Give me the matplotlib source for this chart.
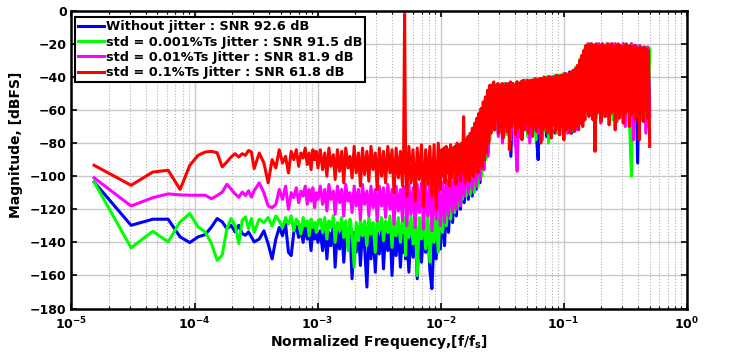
import numpy as np
import matplotlib
matplotlib.use('Agg')
import matplotlib.pyplot as plt

plt.rcParams['font.family'] = ['DejaVu Sans']
plt.rcParams['font.weight'] = 'bold'
plt.rcParams['mathtext.fontset'] = 'dejavusans'
plt.rcParams['mathtext.default'] = 'bf'

# FFT length used for the spectrum
n_fft = 65536

# FFT bin indices where the spectrum was read
bins = [1, 2, 3, 4, 5, 6, 7, 8, 9, 10, 11, 12, 13, 14, 15, 16, 17, 18, 19, 20,
        22, 24, 26, 28, 30, 32, 34, 36, 38, 40, 42, 44, 46, 48, 50, 52, 54, 56, 58, 60, 62, 64, 66,
        69, 72, 75, 78, 81, 84, 88, 91, 95, 99,
        103, 107, 111, 116, 120, 125, 130, 135, 141, 146,
        152, 158, 165, 171, 178, 185, 193, 200, 208, 217,
        225, 234, 244, 254, 264, 274, 285, 297, 309, 321,
        328, 334, 340, 348, 362, 376, 391, 407, 423, 440,
        458, 476, 495, 515, 536, 557, 580, 603, 627, 652,
        680, 705, 730, 760, 790, 820, 850, 880, 915, 950, 985, 1020, 1060,
        1100, 1140, 1185, 1230, 1275, 1320, 1370, 1420, 1475, 1530, 1590, 1650,
        1715, 1785, 1855, 1930, 2005, 2085, 2170, 2255, 2345, 2440,
        2540, 2640, 2745, 2855, 2970, 3090, 3210, 3340, 3475, 3615,
        3760, 3910, 4065, 4225, 4395, 4570, 4755, 4945, 5140, 5345,
        5560, 5785, 6015, 6255, 6505, 6765, 7035, 7320, 7610, 7915,
        8230, 8560, 8900, 9260, 9630,
        10010, 10400, 10810, 11230, 11670, 12130, 12600, 13100, 13610, 14140,
        14700, 15270, 15870, 16490, 17140, 17810, 18510, 19230, 19990, 20770,
        21580, 22430, 23310, 24220, 25170, 26160, 27180, 28250, 29350, 30500,
        31700, 32768]

# the red trace was read more finely above 1e-2 (it covers the others there)
red_hf_bins = [670, 684, 698, 712, 727, 742, 757, 773, 789, 805,
               822, 839, 856, 874, 892, 910, 929, 948, 968, 988,
               1008, 1029, 1050, 1072, 1094, 1117, 1140, 1163, 1187, 1212,
               1237, 1262, 1288, 1315, 1342, 1370, 1398, 1427, 1456, 1486,
               1517, 1548, 1580, 1613, 1646, 1680,
               1700, 1735, 1770, 1805, 1840, 1875, 1910, 1950, 1990, 2030,
               2070, 2110, 2150, 2195, 2240, 2285, 2330, 2375, 2420, 2470,
               2520, 2570, 2620, 2670, 2725, 2780, 2835, 2890, 2945, 3005,
               3065, 3125, 3185, 3250, 3315, 3380, 3445, 3515, 3585, 3655,
               3725, 3800, 3875, 3950, 4030, 4110, 4190, 4275, 4360, 4445,
               4535, 4625, 4715, 4810, 4905, 5000, 5100, 5200, 5305, 5410,
               5515, 5625, 5735, 5850, 5965, 6085, 6205, 6330, 6455, 6580,
               6710, 6845, 6980, 7120, 7260, 7405, 7550, 7700, 7855, 8010,
               8170, 8330, 8495, 8665, 8835, 9010, 9190, 9370, 9555, 9745,
               9940, 10130, 10320, 10520, 10720, 10920, 11130, 11340, 11560, 11780,
               12000, 12230, 12460, 12700, 12940, 13190, 13440, 13700, 13960, 14230,
               14500, 14780, 15060, 15350, 15640, 15940, 16240, 16550, 16870, 17190,
               17520, 17850, 18190, 18540, 18890, 19250, 19620, 19990, 20370, 20760,
               21160, 21560, 21970, 22390, 22820, 23250, 23690, 24140, 24600, 25070,
               25550, 26040, 26530, 27040, 27550, 28080, 28610, 29160, 29710, 30280,
               30860, 31450, 32050, 32768]

blue_db = [-103.5, -129.7, -126, -126, -136.7, -140.1, -136.7, -135.3, -130.7, -125.6,
           -127.6, -131.7, -129.7, -133.7, -129.7, -134.7, -135.7, -133.7, -136.7, -139.7,
           -138, -133, -141, -150, -138, -131, -136, -129, -146, -148, -134, -130,
           -137, -132, -140, -130, -138, -133, -145, -131, -138, -133, -140,
           -133, -145, -131, -150, -134, -142, -130, -155, -133, -144,
           -131, -152, -135, -140, -132, -162, -134, -146, -131, -154,
           -133, -143, -167, -135, -150, -132, -158, -134, -147, -131,
           -156, -133, -145, -130, -160, -134, -148, -131, -155, -133,
           -146, -130, -150, -135, -158, -131, -149, -133, -162, -130,
           -152, -134, -146, -129, -157, -168, -135, -150, -126, -144,
           -120, -142, -116, -134, -112, -128, -108, -124, -104, -120, -100, -116, -96,
           -114, -92, -112, -86, -108, -80, -104, -72, -96, -62, -86, -52,
           -45, -71, -45, -75, -45, -70, -44, -74, -44, -88,
           -44, -72, -43, -76, -43, -71, -42, -74, -42, -70,
           -42, -73, -90, -41, -72, -41, -76, -40, -71, -40,
           -74, -39, -70, -39, -73, -38, -70, -37, -74, -36,
           -71, -33, -67, -27, -58,
           -21, -61, -20, -63, -21, -60, -20, -66, -21, -62,
           -20, -64, -21, -61, -20, -65, -21, -60, -20, -67,
           -21, -62, -20, -64, -21, -92, -21, -63, -22, -68,
           -22, -60]

green_db = [-103.5, -143.3, -133.3, -139.7, -127.6, -122.6, -130.7, -133.7, -140.7, -150.8,
            -147.8, -131.7, -125.6, -129.7, -140.7, -126.6, -124.6, -131.7, -125.6, -134,
            -126, -128, -125, -130, -124, -127, -131, -125, -129, -124, -133, -126,
            -128, -135, -125, -130, -127, -136, -126, -131, -128, -134, -127,
            -126, -134, -125, -138, -127, -131, -124, -140, -128, -133,
            -125, -137, -127, -145, -126, -134, -155, -128, -139, -126,
            -136, -127, -142, -125, -135, -128, -146, -126, -133, -125,
            -139, -127, -134, -124, -143, -126, -136, -125, -140, -127,
            -134, -125, -148, -127, -137, -124, -141, -126, -160, -125,
            -138, -123, -144, -124, -152, -126, -140, -122, -146, -120,
            -134, -114, -130, -112, -126, -110, -122, -108, -118, -106, -114, -102, -112,
            -96, -111, -90, -110, -84, -106, -76, -100, -66, -90, -56, -78,
            -46, -70, -45, -73, -45, -69, -44, -75, -44, -71,
            -44, -82, -43, -72, -43, -70, -42, -76, -42, -71,
            -41, -78, -41, -70, -41, -73, -40, -80, -40, -71,
            -39, -74, -39, -70, -38, -72, -38, -70, -37, -73,
            -34, -69, -29, -64, -24,
            -21, -63, -20, -60, -21, -65, -20, -61, -21, -64,
            -20, -62, -21, -66, -20, -61, -21, -64, -20, -62,
            -21, -66, -100, -21, -63, -21, -65, -22, -62, -22,
            -70, -23]

magenta_db = [-101, -118, -113, -110.7, -111.3, -111.5, -111.5, -111.5, -113.6, -111.7,
              -109.6, -104.9, -107.8, -110.7, -112.7, -109.6, -111.7, -108.8, -112.7, -108.8,
              -104, -110, -118, -119, -117, -108, -114, -106, -120, -110, -113, -107,
              -116, -109, -112, -106, -117, -108, -115, -107, -119, -110, -114,
              -106, -117, -108, -121, -105, -114, -109, -123, -106, -116,
              -108, -124, -105, -115, -110, -122, -106, -118, -108, -126,
              -105, -117, -109, -124, -106, -119, -108, -127, -106, -118,
              -107, -125, -105, -120, -108, -129, -106, -121, -108, -127,
              -106, -118, -108, -130, -105, -123, -107, -131, -105, -122,
              -104, -132, -106, -124, -103, -133, -104, -126, -102, -130,
              -104, -128, -102, -124, -100, -122, -98, -120, -96, -118, -92, -112, -90,
              -110, -86, -108, -80, -106, -74, -102, -68, -96, -60, -88, -52,
              -46, -72, -45, -76, -46, -80, -45, -73, -44, -78,
              -45, -74, -97, -44, -76, -43, -72, -42, -80, -42,
              -70, -42, -74, -41, -78, -41, -71, -40, -75, -40,
              -69, -39, -73, -39, -70, -38, -74, -38, -71, -36,
              -72, -34, -68, -28, -60,
              -21, -60, -20, -64, -21, -62, -20, -68, -20, -61,
              -21, -65, -20, -60, -20, -67, -21, -62, -20, -70,
              -21, -63, -20, -78, -21, -61, -21, -66, -22, -74,
              -22, -64]

red_db = [-93.4, -105.5, -97.5, -96.4, -108, -93.4, -87.4, -85.4, -85, -85.8,
          -94.4, -91.4, -88.4, -86.4, -88.4, -86.4, -87.4, -84.4, -85.4, -95.4,
          -86, -92, -104, -90, -95, -84, -92, -88, -98, -85, -90, -84,
          -94, -86, -89, -83, -93, -86, -96, -84, -90, -85, -95,
          -84, -96, -86, -100, -83, -94, -87, -102, -84, -97,
          -85, -104, -83, -95, -88, -101, -82, -98, -86, -106,
          -83, -99, -85, -103, -82, -96, -86, -108, -83, -100,
          -85, -104, -82, -98, -84, -110, -83, -101, -85, -106,
          -86, -2, -88, -112, -82, -104, -84, -115, -83, -102,
          -81, -118, -84, -105, -82, -112, -81, -120, -80, -108,
          # above 1e-2, on red_hf_bins
          -84, -100, -83, -104, -82, -98, -84, -106, -81, -101,
          -83, -97, -82, -105, -80, -99, -81, -103, -80, -98,
          -64, -104, -78, -101, -76, -103, -74, -99, -71, -100,
          -68, -97, -65, -98, -62, -94, -59, -95, -55, -90,
          -52, -86, -48, -80, -45, -74,
          -45, -68, -43, -72, -46, -66, -44, -74, -45, -70,
          -44, -77, -46, -69, -44, -73, -45, -84, -43, -70,
          -44, -67, -45, -75, -43, -71, -44, -69, -43, -78,
          -42, -72, -44, -68, -42, -74, -43, -70, -42, -76,
          -42, -71, -41, -73, -42, -69, -41, -80, -41, -72,
          -40, -70, -41, -74, -40, -71, -40, -77, -41, -69,
          -40, -73, -39, -71, -40, -75, -39, -70, -39, -78,
          -38, -72, -39, -70, -38, -74, -37, -71, -36, -73,
          -35, -70, -33, -72, -30, -68, -27, -70, -24, -66,
          -21, -60, -20, -64, -22, -58, -20, -66, -21, -85,
          -20, -62, -22, -59, -21, -67, -20, -61, -21, -64,
          -22, -58, -20, -69, -21, -62, -20, -60, -22, -72,
          -21, -61, -20, -65, -21, -59, -22, -68, -21, -62,
          -20, -60, -22, -70, -21, -63, -22, -61, -21, -66,
          -22, -64, -23, -78, -22, -62, -23, -67, -22, -60,
          -23, -65, -24, -82]

labels = ['Without jitter : SNR 92.6 dB',
          'std = 0.001%Ts Jitter : SNR 91.5 dB',
          'std = 0.01%Ts Jitter : SNR 81.9 dB',
          'std = 0.1%Ts Jitter : SNR 61.8 dB']
colors = ['#0000ff', '#00ff00', '#ff00ff', '#ff0000']

freq = np.array(bins) / n_fft
red_freq = np.array(bins[:103] + red_hf_bins) / n_fft

fig = plt.figure(figsize=(7.31, 3.63), dpi=100)
ax = fig.add_axes([0.0978, 0.150, 0.8416, 0.8204])

ax.plot(freq, blue_db, color=colors[0], lw=2.2, label=labels[0])
ax.plot(freq, green_db, color=colors[1], lw=2.2, label=labels[1])
ax.plot(freq, magenta_db, color=colors[2], lw=2.2, label=labels[2])
ax.plot(red_freq, red_db, color=colors[3], lw=2.2, label=labels[3])

ax.set_xscale('log')
ax.set_xlim(1e-5, 1)
ax.set_ylim(-180, 0)
ax.set_yticks(np.arange(-180, 1, 20))
ax.set_xticks([1e-5, 1e-4, 1e-3, 1e-2, 1e-1, 1])
ax.set_xticklabels([r'$10^{-5}$', r'$10^{-4}$', r'$10^{-3}$', r'$10^{-2}$', r'$10^{-1}$', r'$10^{0}$'])

# matlab style grid, minor grid dotted
ax.grid(True, which='major', color='#c8c8c8', lw=1.0)
ax.grid(True, which='minor', axis='x', color='#b0b0b0', lw=0.8, ls=':')
ax.set_axisbelow(True)
ax.tick_params(which='both', direction='in', top=True, right=True, labelsize=9)
ax.tick_params(axis='x', pad=5)
ax.tick_params(which='major', length=4, width=1.2)
ax.tick_params(which='minor', length=2.5, width=0.8)
for s in ax.spines.values():
    s.set_linewidth(1.8)

ax.set_xlabel(r'Normalized Frequency,[f/f$_s$]', fontsize=10, fontweight='bold', labelpad=1)
ax.set_ylabel('Magnitude, [dBFS]', fontsize=10, fontweight='bold')
ax.yaxis.set_label_coords(-0.079, 0.55)

leg = ax.legend(loc='upper left', bbox_to_anchor=(0.006, 0.979), borderaxespad=0,
                fontsize=9.3, handlelength=2.0, handletextpad=0.1,
                labelspacing=0.18, borderpad=0.25,
                fancybox=False, framealpha=1, edgecolor='black')
leg.get_frame().set_linewidth(1.5)
for t in leg.get_texts():
    t.set_fontweight('bold')

fig.savefig('out.png', dpi=100)
